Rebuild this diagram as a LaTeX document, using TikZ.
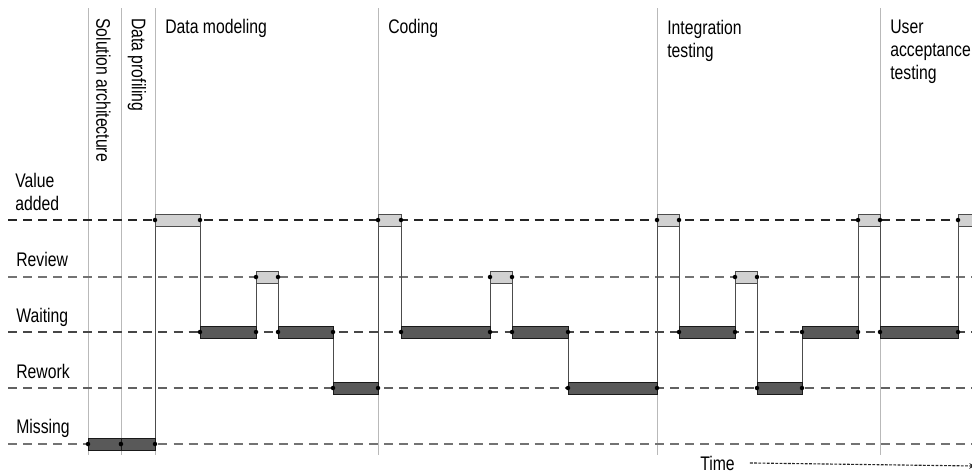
\documentclass[tikz,border=0pt]{standalone}
\usepackage{fontspec}
\setmainfont{Liberation Sans}[FakeStretch=0.8]
\usetikzlibrary{arrows.meta}

\begin{document}
\begin{tikzpicture}[x=0.025cm, y=-0.025cm, >=stealth,
    phase/.style={gray!55, line width=0.5pt},
    level/.style={line width=0.8pt, dash pattern=on 6.4pt off 4.3pt},
    link/.style={black!70, line width=0.5pt},
    busy/.style={fill=black!65, draw=black!90, line width=0.6pt},
    gain/.style={fill=black!18, draw=black!70, line width=0.6pt},
    lbl/.style={inner sep=0pt, font=\fontsize{14}{16.4}\selectfont, text=black}]
    \useasboundingbox (0,0) rectangle (972,475);

    % Phase boundaries
    \foreach \x in {88,121,155,378,657,880}
        \draw[phase] (\x,8) -- (\x,455);

    % State levels
    \foreach \y/\c in {220/black!85, 277/black!55, 332/black!72, 388/black!62, 444/black!55}
        \draw[level, \c] (8,\y) -- (985,\y);

    % Transitions
    \foreach \x/\a/\b in {155/444/220, 200/220/332, 256/332/277, 278/277/332,
        333/332/388, 378/388/220, 401/220/332, 490/332/277, 512/277/332,
        568/332/388, 657/388/220, 679/220/332, 735/332/277, 757/277/388,
        802/388/332, 858/332/220, 880/220/332, 958/332/220}
        \draw[link] (\x,\a) -- (\x,\b);

    % Bars
    \foreach \a/\b/\y/\s in {88/121/444/busy, 121/155/444/busy, 155/200/220/gain,
        200/256/332/busy, 256/278/277/gain, 278/333/332/busy, 333/378/388/busy,
        378/401/220/gain, 401/490/332/busy, 490/512/277/gain, 512/568/332/busy,
        568/657/388/busy, 657/679/220/gain, 679/735/332/busy, 735/757/277/gain,
        757/802/388/busy, 802/858/332/busy, 858/880/220/gain, 880/958/332/busy,
        958/990/220/gain}
    {
        \draw[\s] (\a,\y-6) rectangle (\b,\y+6);
        \fill (\a,\y) circle[radius=1.6pt] (\b,\y) circle[radius=1.6pt];
    }

    % Phase names
    \node[lbl, rotate=-90, anchor=west] (solarch) at (103.5,18) {Solution architecture};
    \node[lbl, rotate=-90, anchor=west] (dataprof) at (137,18) {Data profiling};
    \node[lbl, anchor=base west] (datamod) at (165,33) {Data modeling};
    \node[lbl, anchor=base west] (coding) at (388,33) {Coding};
    \node[lbl, anchor=north west, align=left] (integ) at (667,20) {Integration\\testing};
    \node[lbl, anchor=north west, align=left] (uat) at (890,20) {User\\acceptance\\testing};

    % Level names
    \node[lbl, anchor=north west, align=left] (valadd) at (15,173) {Value\\added};
    \node[lbl, anchor=base west] (review) at (16,266) {Review};
    \node[lbl, anchor=base west] (waiting) at (16,322) {Waiting};
    \node[lbl, anchor=base west] (rework) at (16,378) {Rework};
    \node[lbl, anchor=base west] (missing) at (16,433) {Missing};

    % Time axis
    \node[lbl, anchor=base west] (time) at (700,470) {Time};
    \coordinate (tend) at (975,466);
    \draw[->, black!85, line width=0.8pt, dash pattern=on 2pt off 1pt] (time.east) ++(15,0) -- (tend);
\end{tikzpicture}
\end{document}
